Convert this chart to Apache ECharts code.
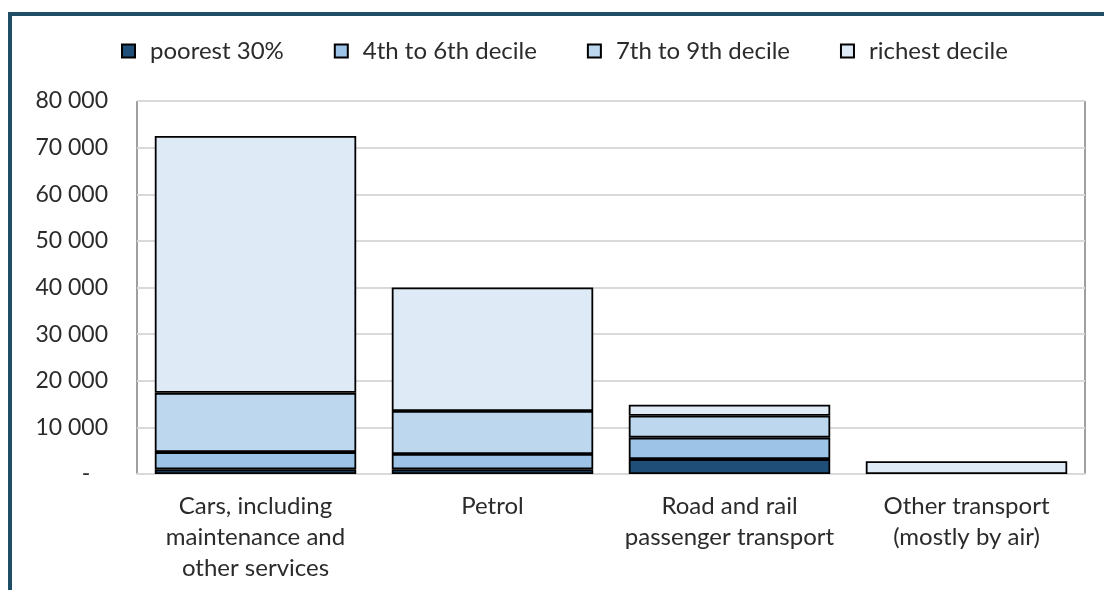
<!DOCTYPE html>
<html>
<head>
<meta charset="utf-8">
<script src="https://cdn.jsdelivr.net/npm/echarts@6/dist/echarts.min.js"></script>
<style>
  html, body { margin: 0; padding: 0; background: #fff; }
  #frame {
    position: absolute; left: 8px; top: 12px; width: 1120px; height: 600px;
    border-left: 4px solid #1d4e66; border-top: 4px solid #1d4e66;
  }
  #chart { position: absolute; left: 0; top: 0; width: 1104px; height: 590px; }
</style>
</head>
<body>
<div id="frame"></div>
<div id="chart"></div>
<script>
// Transport spending by income group
const categories = [
  'Cars, including\nmaintenance and\nother services',
  'Petrol',
  'Road and rail\npassenger transport',
  'Other transport\n(mostly by air)'
];
const seriesNames = ['poorest 30%', '4th to 6th decile', '7th to 9th decile', 'richest decile'];
const poorest = [1000, 1000, 3200, 0];
const decile4to6 = [3700, 3300, 4600, 0];
const decile7to9 = [12700, 9200, 4700, 0];
const richest = [55100, 26500, 2350, 2750];
const colors = ['#1f4e79', '#9dc3e6', '#bdd7ee', '#deebf7'];
const yTicks = { min: 0, max: 80000, interval: 10000 };

const font = 'Lato, "Open Sans", sans-serif';
const textColor = '#2b2b2b';

function fmt(v) {
  if (v === 0) return '-   ';
  return String(v).replace(/\B(?=(\d{3})+(?!\d))/g, ' ');
}

const values = [poorest, decile4to6, decile7to9, richest];

const chart = echarts.init(document.getElementById('chart'), null, { renderer: 'canvas' });
chart.setOption({
  animation: false,
  backgroundColor: 'transparent',
  legend: {
    top: 39,
    left: 121,
    padding: 0,
    itemWidth: 13,
    itemHeight: 13,
    itemGap: 50,
    icon: 'rect',
    textStyle: { fontFamily: font, fontSize: 24, color: textColor, padding: [0, 0, 0, 10] },
    data: seriesNames.map((n, i) => ({
      name: n,
      itemStyle: { color: colors[i], borderColor: '#000', borderWidth: 2 }
    }))
  },
  grid: {
    left: 137, right: 19, top: 101, bottom: 116,
    show: true, borderColor: '#404040', borderWidth: 1, backgroundColor: 'transparent'
  },
  xAxis: {
    type: 'category',
    data: categories,
    axisLine: { show: true, lineStyle: { color: '#d9d9d9', width: 2 } },
    axisTick: { show: false },
    axisLabel: {
      fontFamily: font, fontSize: 24, color: textColor,
      lineHeight: 31, margin: 17, interval: 0
    }
  },
  yAxis: {
    type: 'value',
    min: yTicks.min, max: yTicks.max, interval: yTicks.interval,
    axisLine: { show: false },
    axisTick: { show: false },
    splitLine: { lineStyle: { color: '#d9d9d9', width: 2 } },
    axisLabel: {
      fontFamily: font, fontSize: 23, color: textColor, margin: 29,
      formatter: fmt
    }
  },
  series: seriesNames.map((n, i) => ({
    name: n,
    type: 'bar',
    stack: 'total',
    barWidth: '85%',
    data: values[i].map(v => (v === 0 ? null : v)),
    itemStyle: { color: colors[i], borderColor: '#000', borderWidth: 1.8 }
  }))
});
</script>
</body>
</html>
